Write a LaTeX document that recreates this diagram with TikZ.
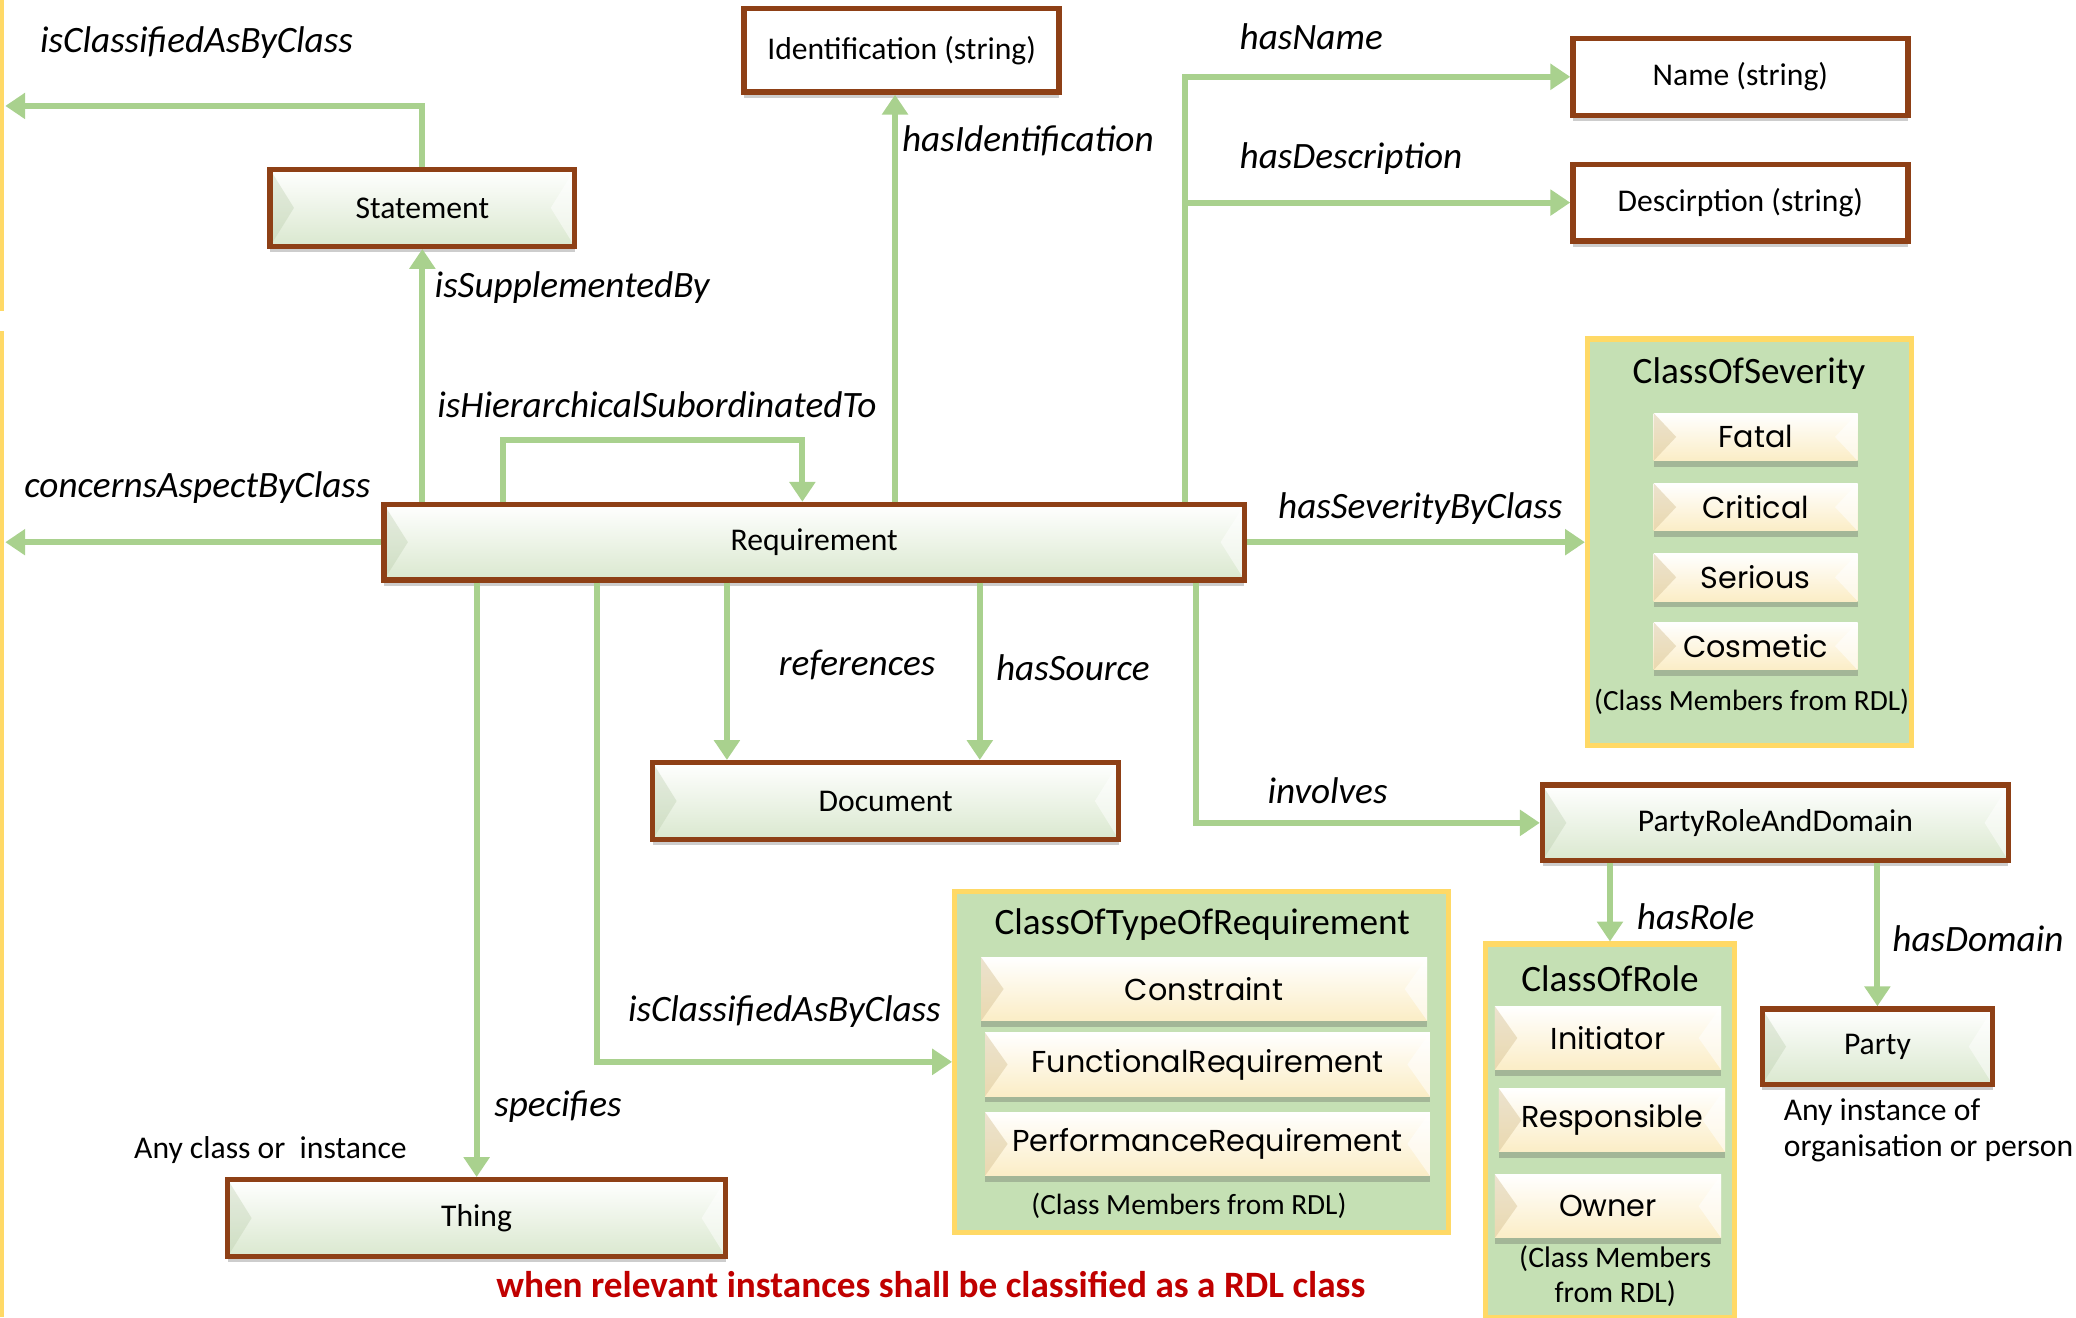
\documentclass[tikz,border=0pt]{standalone}
\usepackage{fontspec}
\setmainfont{Carlito}
\newfontfamily\memberfont{Poppins}
\usetikzlibrary{arrows.meta,calc,shadows}

\definecolor{linkgreen}{HTML}{A9D18E}
\definecolor{boxbrown}{HTML}{8E4016}
\definecolor{facegreen}{HTML}{DAE8CF}
\definecolor{bevelgreen}{HTML}{B9CCAA}
\definecolor{groupgreen}{HTML}{C5E0B4}
\definecolor{groupgold}{HTML}{FFD966}
\definecolor{cream}{HTML}{FBEDC6}
\definecolor{tanshade}{HTML}{D6C194}
\definecolor{notered}{HTML}{C00000}

\tikzset{
  conn/.style={draw=linkgreen, line width=2.6pt,
    -{Triangle[length=0.3cm,width=0.38cm]}},
  boxshadow/.style={drop shadow={shadow xshift=0pt, shadow yshift=-2.5pt,
    opacity=0.28, fill=black!70}},
  classbox/.style={draw=boxbrown, line width=2.3pt, boxshadow,
    top color=white, middle color=facegreen, bottom color=facegreen,
    font=\fontsize{13.6}{16}\selectfont, inner sep=2pt,
    path picture={
      \fill[bevelgreen, opacity=0.35]
        (path picture bounding box.north west)
        -- ($(path picture bounding box.west)+(0.36cm,0)$)
        -- (path picture bounding box.south west) -- cycle;
      \fill[white, opacity=0.5]
        (path picture bounding box.north east)
        -- ($(path picture bounding box.east)+(-0.36cm,0)$)
        -- (path picture bounding box.south east) -- cycle;
    }},
  valuebox/.style={draw=boxbrown, line width=2.3pt, fill=white, boxshadow,
    font=\fontsize{13.6}{16}\selectfont},
  memberbox/.style={boxshadow,
    top color=white, middle color=cream, bottom color=cream,
    font=\memberfont\fontsize{13}{15}\selectfont, inner sep=1pt,
    path picture={
      \fill[tanshade, opacity=0.45]
        (path picture bounding box.north west)
        -- ($(path picture bounding box.west)+(0.34cm,0)$)
        -- (path picture bounding box.south west) -- cycle;
      \fill[white, opacity=0.55]
        (path picture bounding box.north east)
        -- ($(path picture bounding box.east)+(-0.34cm,0)$)
        -- (path picture bounding box.south east) -- cycle;
    }},
  group/.style={draw=groupgold, line width=2.2pt, fill=groupgreen},
  grouptitle/.style={font=\fontsize{16}{19}\selectfont, inner sep=0pt},
  membernote/.style={font=\fontsize{12.6}{15}\selectfont, inner sep=0pt},
  rel/.style={font=\fontsize{16}{19}\selectfont\itshape, inner sep=0pt, anchor=west},
  remark/.style={font=\fontsize{13.6}{16}\selectfont, inner sep=0pt, anchor=west},
}

\begin{document}
\begin{tikzpicture}[x=0.02cm, y=-0.02cm]
\useasboundingbox (0,0) rectangle (1568,995);

% frame edges on the left
\fill[groupgold] (0,0) rectangle (3,235);
\fill[groupgold] (0,250) rectangle (3,995);

% class groups
\node[group, minimum width=4.9cm, minimum height=6.14cm] (sev) at (1321.5,409.5) {};
\node[grouptitle] (sevtitle) at (1321,282) {ClassOfSeverity};
\node[memberbox, minimum width=3.08cm, minimum height=0.72cm] (fatal) at (1326,330) {Fatal};
\node[memberbox, minimum width=3.08cm, minimum height=0.72cm] (critical) at (1326,383) {Critical};
\node[memberbox, minimum width=3.08cm, minimum height=0.72cm] (serious) at (1326,436) {Serious};
\node[memberbox, minimum width=3.08cm, minimum height=0.72cm] (cosmetic) at (1326,488) {Cosmetic};
\node[membernote] (sevnote) at (1323,530) {(Class Members from RDL)};

\node[group, minimum width=7.46cm, minimum height=5.16cm] (tor) at (907.5,802) {};
\node[grouptitle] (tortitle) at (908,698) {ClassOfTypeOfRequirement};
\node[memberbox, minimum width=6.74cm, minimum height=0.96cm] (constraint) at (909.5,747) {Constraint};
\node[memberbox, minimum width=6.72cm, minimum height=0.96cm] (functional) at (912,804) {FunctionalRequirement};
\node[memberbox, minimum width=6.72cm, minimum height=0.96cm] (performance) at (912,864) {PerformanceRequirement};
\node[membernote] (tornote) at (898,911) {(Class Members from RDL)};

\node[group, minimum width=3.76cm, minimum height=5.64cm] (role) at (1216,854) {};
\node[grouptitle] (roletitle) at (1216,739) {ClassOfRole};
\node[memberbox, minimum width=3.42cm, minimum height=0.96cm] (initiator) at (1214.5,784) {Initiator};
\node[memberbox, minimum width=3.42cm, minimum height=0.96cm] (responsible) at (1217.5,846) {Responsible};
\node[memberbox, minimum width=3.42cm, minimum height=0.96cm] (owner) at (1214.5,911) {Owner};
\node[membernote, font=\fontsize{12.8}{14.8}\selectfont, align=center] (rolenote) at (1220,964) {(Class Members\\from RDL)};

% classes
\node[classbox, minimum width=4.6cm, minimum height=1.16cm] (stmt) at (319,157) {Statement};
\node[valuebox, minimum width=4.76cm, minimum height=1.26cm] (ident) at (681,38) {Identification (string)};
\node[valuebox, minimum width=5.06cm, minimum height=1.16cm] (name) at (1314.5,58) {Name (string)};
\node[valuebox, minimum width=5.06cm, minimum height=1.16cm] (desc) at (1314.5,153) {Descirption (string)};
\node[classbox, minimum width=13cm, minimum height=1.14cm] (req) at (615,409.5) {Requirement};
\node[classbox, minimum width=7.04cm, minimum height=1.16cm] (doc) at (669,605) {Document};
\node[classbox, minimum width=7.52cm, minimum height=1.16cm] (thing) at (360,920) {Thing};
\node[classbox, minimum width=7.04cm, minimum height=1.14cm] (prd) at (1341,621.5) {PartyRoleAndDomain};
\node[classbox, minimum width=3.48cm, minimum height=1.14cm] (party) at (1418,790.5) {Party};

% free ends and branch points
\coordinate (outA) at (4,80);
\coordinate (outB) at (4,409.5);
\coordinate (loopL) at ($(req.north west)+(92,0)$);
\coordinate (loopR) at ($(req.north west)+(318,0)$);
\coordinate (idfoot) at ($(ident.south)+(-5,0)$);
\coordinate (trunk) at ($(req.north west)+(607,0)$);
\coordinate (refx) at ($(req.south west)+(261,0)$);
\coordinate (srcx) at ($(req.south west)+(452,0)$);
\coordinate (invx) at ($(req.south west)+(615,0)$);
\coordinate (clsx) at ($(req.south west)+(163,0)$);

% connectors
\draw[conn] (stmt.north) |- (outA);
\draw[conn] (req.north -| stmt.south) -- (stmt.south);
\draw[conn] (loopL) -- ++(0,-47) -| (loopR);
\draw[conn] (req.west) -- (outB);
\draw[conn] (req.north -| idfoot) -- (idfoot);
\draw[conn] (trunk) |- (name.west);
\draw[conn] (trunk |- desc.west) -- (desc.west);
\draw[conn] (req.east) -- (sev.west);
\draw[conn] (invx) |- (prd.west);
\draw[conn] (refx) -- (refx |- doc.north);
\draw[conn] (srcx) -- (srcx |- doc.north);
\draw[conn] (clsx) |- (tor.west);
\draw[conn] (req.south -| thing.north) -- (thing.north);
\draw[conn] (prd.south -| role.north) -- (role.north);
\draw[conn] (prd.south -| party.north) -- (party.north);

% relation names
\node[rel] (l1) at (30,32) {isClassifiedAsByClass};
\node[rel] (l2) at (328,217) {isSupplementedBy};
\node[rel] (l3) at (330,306) {isHierarchicalSubordinatedTo};
\node[rel] (l4) at (18,368) {concernsAspectByClass};
\node[rel] (l5) at (681,106) {hasIdentification};
\node[rel] (l6) at (936,28) {hasName};
\node[rel] (l7) at (936,120) {hasDescription};
\node[rel] (l8) at (965,384) {hasSeverityByClass};
\node[rel] (l9) at (588,502) {references};
\node[rel] (l10) at (752,504) {hasSource};
\node[rel] (l11) at (957,597) {involves};
\node[rel] (l12) at (474,764) {isClassifiedAsByClass};
\node[rel] (l13) at (373,836) {specifies};
\node[rel] (l14) at (1236,692) {hasRole};
\node[rel] (l15) at (1429,709) {hasDomain};

% remarks
\node[remark] (r1) at (101,869) {Any class or\ \ instance};
\node[remark, align=left, font=\fontsize{13.6}{15.5}\selectfont] (r2) at (1347,854) {Any instance of\\organisation or person};
\node[font=\fontsize{16}{19}\selectfont\bfseries, text=notered, inner sep=0pt] (r3) at (703,970)
  {when relevant instances shall be classified as a RDL class};
\end{tikzpicture}
\end{document}
